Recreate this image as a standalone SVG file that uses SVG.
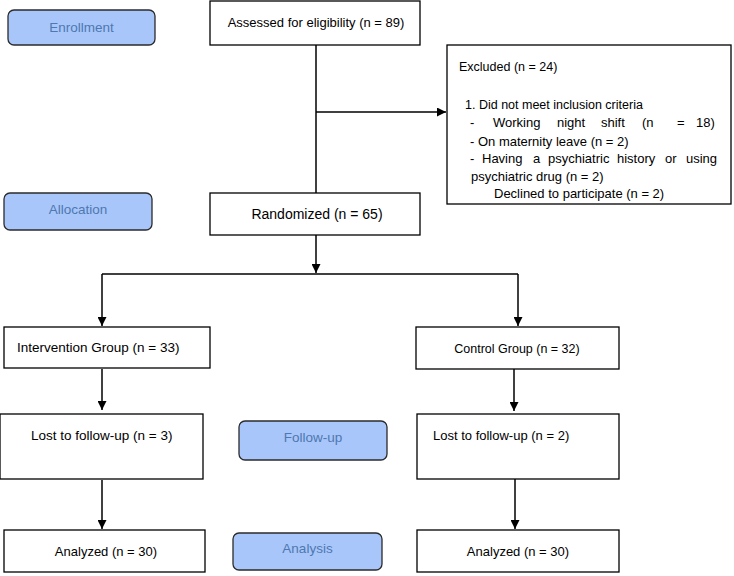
<svg xmlns="http://www.w3.org/2000/svg" width="734" height="576" viewBox="0 0 734 576">
<style>
.box{fill:#fff;stroke:#000;stroke-width:1.3}
.stage{fill:#a9c6fa;stroke:#2b2b2b;stroke-width:1.3}
.t{font-family:"Liberation Sans",Arial,sans-serif;font-size:13px;fill:#000}
.s{font-family:"Liberation Sans",Arial,sans-serif;font-size:13.5px;fill:#4d78b0}
.c{text-anchor:middle}
.ln{fill:none;stroke:#000;stroke-width:1.5}
</style>
<defs>
<marker id="ah2" viewBox="0 0 10 10" refX="10" refY="5" markerWidth="10" markerHeight="9" orient="auto" markerUnits="userSpaceOnUse">
<path d="M0,0 L10,5 L0,10 z" fill="#000"/>
</marker>
</defs>
<g id="connectors">
<path class="ln" d="M316,45 V193"/>
<path class="ln" d="M316,112 H446" marker-end="url(#ah2)"/>
<path class="ln" d="M316,235 V273" marker-end="url(#ah2)"/>
<path class="ln" d="M102,274 H518"/>
<path class="ln" d="M102,274 V326" marker-end="url(#ah2)"/>
<path class="ln" d="M518,274 V326" marker-end="url(#ah2)"/>
<path class="ln" d="M102,369 V410" marker-end="url(#ah2)"/>
<path class="ln" d="M514,369 V411" marker-end="url(#ah2)"/>
<path class="ln" d="M102,480 V529" marker-end="url(#ah2)"/>
<path class="ln" d="M515,479 V529" marker-end="url(#ah2)"/>
</g>
<g id="enrollment"><rect class="stage" x="8" y="10" width="147" height="35" rx="6"/><text class="s c" x="81.5" y="32">Enrollment</text></g>
<g id="allocation"><rect class="stage" x="4" y="193" width="148" height="37" rx="6"/><text class="s c" x="78" y="214">Allocation</text></g>
<g id="followup"><rect class="stage" x="239" y="421" width="148" height="39" rx="6"/><text class="s c" x="313" y="442">Follow-up</text></g>
<g id="analysis"><rect class="stage" x="233" y="533" width="149" height="37" rx="6"/><text class="s c" x="307.5" y="553">Analysis</text></g>
<g id="assessed"><rect class="box" x="210" y="1" width="210" height="44"/><text class="t c" x="316" y="27">Assessed for eligibility (n = 89)</text></g>
<g id="excluded"><rect class="box" x="447" y="45" width="284" height="159"/>
<text class="t" x="459" y="71" style="font-size:12.5px">Excluded (n = 24)</text>
<text class="t" x="465" y="109" style="font-size:12.5px">1.  Did not meet inclusion criteria</text>
<text class="t" y="127"><tspan x="470">-</tspan><tspan x="493">Working</tspan><tspan x="557">night</tspan><tspan x="601">shift</tspan><tspan x="642">(n</tspan><tspan x="677">=</tspan><tspan x="696">18)</tspan></text>
<text class="t" x="470" y="146">- On maternity leave (n = 2)</text>
<text class="t" y="163"><tspan x="470">-</tspan><tspan x="482">Having</tspan><tspan x="533">a</tspan><tspan x="548">psychiatric</tspan><tspan x="617">history</tspan><tspan x="665">or</tspan><tspan x="686">using</tspan></text>
<text class="t" x="471" y="181">psychiatric drug (n = 2)</text>
<text class="t" x="494" y="198">Declined to participate (n = 2)</text>
</g>
<g id="randomized"><rect class="box" x="210" y="193" width="210" height="42"/><text class="t c" x="317" y="219" style="font-size:14px">Randomized (n = 65)</text></g>
<g id="intervention"><rect class="box" x="4" y="327" width="206" height="41"/><text class="t" x="17" y="352" style="font-size:13.5px">Intervention Group (n = 33)</text></g>
<g id="control"><rect class="box" x="416" y="327" width="203" height="42"/><text class="t c" x="517" y="353" style="font-size:12.5px">Control Group (n = 32)</text></g>
<g id="lost1"><rect class="box" x="0" y="414" width="203" height="65"/><text class="t" x="31" y="440" style="font-size:13.5px">Lost to follow-up (n = 3)</text></g>
<g id="lost2"><rect class="box" x="417" y="414" width="202" height="65"/><text class="t" x="433" y="440">Lost to follow-up (n = 2)</text></g>
<g id="analyzed1"><rect class="box" x="4" y="530" width="201" height="42"/><text class="t c" x="106" y="556">Analyzed (n = 30)</text></g>
<g id="analyzed2"><rect class="box" x="417" y="530" width="202" height="42"/><text class="t c" x="518" y="556">Analyzed (n = 30)</text></g>
</svg>
